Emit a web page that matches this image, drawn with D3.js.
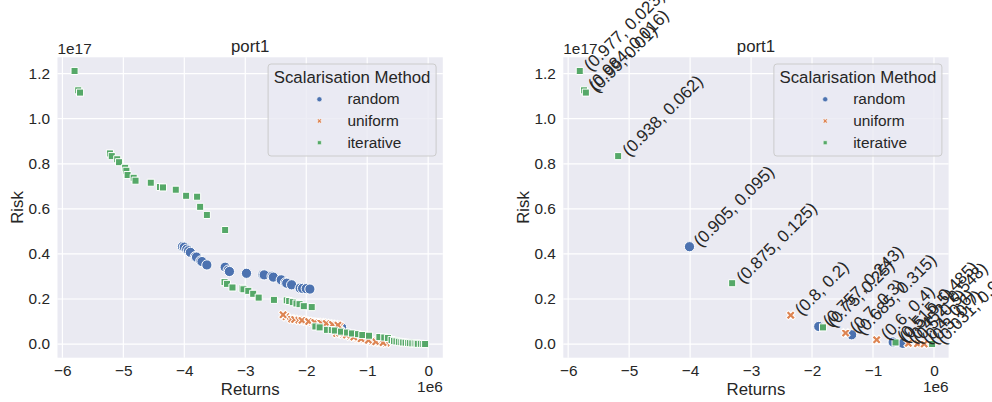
<!DOCTYPE html>
<html>
<head>
<meta charset="utf-8">
<script src="https://cdn.jsdelivr.net/npm/d3@7"></script>
<style>
  body { margin: 0; background: #fff; }
  svg { display: block; font-family: "Liberation Sans", Arial, sans-serif; }
</style>
</head>
<body>
<svg id="chart" width="992" height="402"></svg>
<script>
// returns in units of 1e6, risk in units of 1e17
const methods = ["random", "uniform", "iterative"];
const xTicks = [-6, -5, -4, -3, -2, -1, 0];
const xTickLabels = ["\u22126", "\u22125", "\u22124", "\u22123", "\u22122", "\u22121", "0"];
const yTicks = [0, 0.2, 0.4, 0.6, 0.8, 1.0, 1.2];
const yTickLabels = ["0.0", "0.2", "0.4", "0.6", "0.8", "1.0", "1.2"];

// left panel: all runs
const leftRandom = [
  [-4.03, 0.432], [-4.00, 0.430], [-3.96, 0.421], [-3.93, 0.414], [-3.90, 0.407],
  [-3.82, 0.388], [-3.80, 0.386], [-3.73, 0.369], [-3.71, 0.366], [-3.63, 0.351],
  [-3.33, 0.341], [-3.28, 0.328], [-3.26, 0.322], [-2.98, 0.314], [-2.71, 0.308],
  [-2.69, 0.307], [-2.56, 0.301], [-2.54, 0.297], [-2.41, 0.285], [-2.34, 0.272],
  [-2.32, 0.270], [-2.24, 0.263], [-2.10, 0.248], [-2.06, 0.247], [-2.00, 0.246],
  [-1.94, 0.244], [-1.42, 0.074]
];
const leftUniform = [
  [-2.33, 0.121], [-2.24, 0.111], [-2.38, 0.130], [-2.19, 0.109], [-2.12, 0.106],
  [-2.01, 0.102], [-2.07, 0.105], [-1.91, 0.098], [-1.96, 0.100], [-1.81, 0.095],
  [-1.86, 0.096], [-1.72, 0.093], [-1.76, 0.094], [-1.62, 0.089], [-1.67, 0.091],
  [-1.52, 0.086], [-1.57, 0.087], [-1.45, 0.081], [-1.48, 0.084], [-1.40, 0.044],
  [-1.50, 0.047], [-1.45, 0.049], [-1.28, 0.035], [-1.34, 0.040], [-1.16, 0.027],
  [-1.22, 0.031], [-1.04, 0.020], [-1.10, 0.023], [-0.92, 0.013], [-0.98, 0.017],
  [-0.80, 0.008], [-0.86, 0.010], [-0.69, 0.004], [-0.74, 0.006]
];
const leftIterative = [
  [-5.80, 1.212], [-5.74, 1.126], [-5.71, 1.116], [-5.22, 0.846], [-5.19, 0.834],
  [-5.10, 0.820], [-5.07, 0.807], [-4.97, 0.782], [-4.95, 0.769], [-4.93, 0.750],
  [-4.83, 0.738], [-4.80, 0.725], [-4.55, 0.716], [-4.40, 0.697], [-4.35, 0.695],
  [-4.14, 0.685], [-3.97, 0.658], [-3.79, 0.654], [-3.74, 0.609], [-3.63, 0.573],
  [-3.33, 0.506], [-3.34, 0.275], [-3.30, 0.267], [-3.21, 0.251], [-3.05, 0.246],
  [-3.03, 0.243], [-2.95, 0.236], [-2.87, 0.223], [-2.78, 0.206], [-2.53, 0.196],
  [-2.32, 0.194], [-2.28, 0.191], [-2.22, 0.186], [-2.16, 0.180], [-2.11, 0.177],
  [-2.04, 0.168], [-1.91, 0.164], [-1.85, 0.078], [-1.78, 0.074], [-1.66, 0.063],
  [-1.58, 0.062], [-1.53, 0.060], [-1.43, 0.055], [-1.33, 0.051], [-1.25, 0.047],
  [-1.15, 0.044], [-1.08, 0.040], [-0.97, 0.037], [-0.80, 0.031], [-0.72, 0.029],
  [-0.66, 0.027], [-0.60, 0.018], [-0.56, 0.014], [-0.52, 0.012], [-0.48, 0.010],
  [-0.44, 0.008], [-0.41, 0.007], [-0.37, 0.006], [-0.33, 0.005], [-0.30, 0.004],
  [-0.26, 0.003], [-0.22, 0.003], [-0.19, 0.002], [-0.17, 0.001], [-0.12, 0.001],
  [-0.08, 0.000], [-0.05, 0.000]
];

// right panel: one run per weight pair, annotated
const rightRandom = [
  [-4.01, 0.432, "(0.905, 0.095)"], [-1.89, 0.078, "(0.757, 0.243)"],
  [-1.35, 0.041, "(0.685, 0.315)"], [-0.67, 0.009, "(0.515, 0.485)"],
  [-0.51, 0.003, "(0.452, 0.548)"]
];
const rightUniform = [
  [-2.35, 0.128, "(0.8, 0.2)"], [-1.45, 0.049, "(0.7, 0.3)"],
  [-0.94, 0.019, "(0.6, 0.4)"], [-0.42, 0.003, "(0.5, 0.5)"],
  [-0.27, 0.001, "(0.4, 0.6)"], [-0.16, 0.000, "(0.3, 0.7)"]
];
const rightIterative = [
  [-5.81, 1.212, "(0.977, 0.023)"], [-5.74, 1.126, "(0.984, 0.016)"],
  [-5.71, 1.116, "(0.99, 0.01)"], [-5.18, 0.834, "(0.938, 0.062)"],
  [-3.31, 0.270, "(0.875, 0.125)"], [-1.82, 0.074, "(0.75, 0.25)"],
  [-0.63, 0.007, "(0.5, 0.5)"], [-0.03, 0.000, "(0.031, 0.969)"]
];

const FONT = '"Liberation Sans", Arial, sans-serif';
const textColor = "#262626";
const colors = { random: "#4c72b0", uniform: "#dd8452", iterative: "#55a868" };
const shapes = { random: d3.symbolCircle, uniform: d3.symbolCross, iterative: d3.symbolSquare };
const markerSize = { random: 82, uniform: 52, iterative: 50 };
const legendSize = { random: 20, uniform: 13, iterative: 15 };
const rotation = { random: 0, uniform: 45, iterative: 0 };

const xDomain = [-6.08, 0.24];
const yDomain = [-0.0606, 1.2726];
const plotTop = 57.3, plotW = 385.3, plotH = 300.4;

const svg = d3.select("#chart");

function drawPanel(left, series, annotate) {
  const x = d3.scaleLinear().domain(xDomain).range([left, left + plotW]);
  const y = d3.scaleLinear().domain(yDomain).range([plotTop + plotH, plotTop]);
  const g = svg.append("g");

  g.append("rect")
    .attr("x", left).attr("y", plotTop)
    .attr("width", plotW).attr("height", plotH)
    .attr("fill", "#eaeaf2");

  g.append("g").selectAll("line").data(xTicks).join("line")
    .attr("x1", d => x(d)).attr("x2", d => x(d))
    .attr("y1", plotTop).attr("y2", plotTop + plotH)
    .attr("stroke", "#fff").attr("stroke-width", 1.2);
  g.append("g").selectAll("line").data(yTicks).join("line")
    .attr("y1", d => y(d)).attr("y2", d => y(d))
    .attr("x1", left).attr("x2", left + plotW)
    .attr("stroke", "#fff").attr("stroke-width", 1.2);

  const xAxis = g.append("g")
    .attr("transform", `translate(0,${plotTop + plotH})`)
    .call(d3.axisBottom(x).tickValues(xTicks).tickSize(0).tickPadding(7.4)
      .tickFormat((d, i) => xTickLabels[i]));
  const yAxis = g.append("g")
    .attr("transform", `translate(${left},0)`)
    .call(d3.axisLeft(y).tickValues(yTicks).tickSize(0).tickPadding(7.5)
      .tickFormat((d, i) => yTickLabels[i]));
  [xAxis, yAxis].forEach(a => {
    a.select(".domain").remove();
    a.attr("font-family", FONT).attr("font-size", 15.4);
    a.selectAll("text").attr("fill", textColor);
  });

  // markers, drawn in data order: random, uniform, iterative
  const clipId = "clip" + Math.round(left);
  g.append("clipPath").attr("id", clipId).append("rect")
    .attr("x", left).attr("y", plotTop).attr("width", plotW).attr("height", plotH);
  const pts = g.append("g").attr("clip-path", `url(#${clipId})`);
  methods.forEach((m, i) => {
    pts.append("g").selectAll("path").data(series[i]).join("path")
      .attr("transform", d => `translate(${x(d[0])},${y(d[1])}) rotate(${rotation[m]})`)
      .attr("d", d3.symbol(shapes[m], markerSize[m]))
      .attr("fill", colors[m])
      .attr("stroke", "#fff")
      .attr("stroke-width", 1);
  });

  if (annotate) {
    const ann = g.append("g").attr("font-size", 17).attr("fill", textColor);
    series.forEach(s => {
      s.forEach(d => {
        ann.append("text")
          .attr("transform", `translate(${x(d[0]) + 11},${y(d[1]) + 1}) rotate(-45)`)
          .text(d[2]);
      });
    });
  }

  // titles and offset texts
  g.append("text")
    .attr("x", left + plotW / 2).attr("y", 51.5)
    .attr("text-anchor", "middle").attr("font-size", 16.8).attr("fill", textColor)
    .text("port1");
  g.append("text")
    .attr("x", left).attr("y", 54)
    .attr("font-size", 15.4).attr("fill", textColor)
    .text("1e17");
  g.append("text")
    .attr("x", left + plotW).attr("y", 392)
    .attr("text-anchor", "end").attr("font-size", 15.4).attr("fill", textColor)
    .text("1e6");
  g.append("text")
    .attr("x", left + plotW / 2).attr("y", 394.5)
    .attr("text-anchor", "middle").attr("font-size", 16.8).attr("fill", textColor)
    .text("Returns");
  g.append("text")
    .attr("transform", `translate(${left - 34.2},${plotTop + plotH / 2}) rotate(-90)`)
    .attr("text-anchor", "middle").attr("font-size", 16.8).attr("fill", textColor)
    .text("Risk");

  // legend
  const lg = g.append("g")
    .attr("transform", `translate(${left + plotW - 6.7 - 168},${plotTop + 6.7})`);
  lg.append("rect")
    .attr("width", 168).attr("height", 92).attr("rx", 3)
    .attr("fill", "#eaeaf2").attr("fill-opacity", 0.8)
    .attr("stroke", "#cccccc").attr("stroke-width", 1);
  lg.append("text")
    .attr("x", 84).attr("y", 18.9)
    .attr("text-anchor", "middle").attr("font-size", 16.8).attr("fill", textColor)
    .text("Scalarisation Method");
  methods.forEach((m, i) => {
    lg.append("path")
      .attr("transform", `translate(51.3,${35.3 + i * 21.7}) rotate(${rotation[m]})`)
      .attr("d", d3.symbol(shapes[m], legendSize[m]))
      .attr("fill", colors[m])
      .attr("stroke", "#fff").attr("stroke-width", 0.5);
    lg.append("text")
      .attr("x", 79.3).attr("y", 40.4 + i * 21.7)
      .attr("font-size", 15.4).attr("fill", textColor)
      .text(m);
  });
}

drawPanel(57.5, [leftRandom, leftUniform, leftIterative], false);
drawPanel(563.3, [rightRandom, rightUniform, rightIterative], true);
</script>
</body>
</html>
